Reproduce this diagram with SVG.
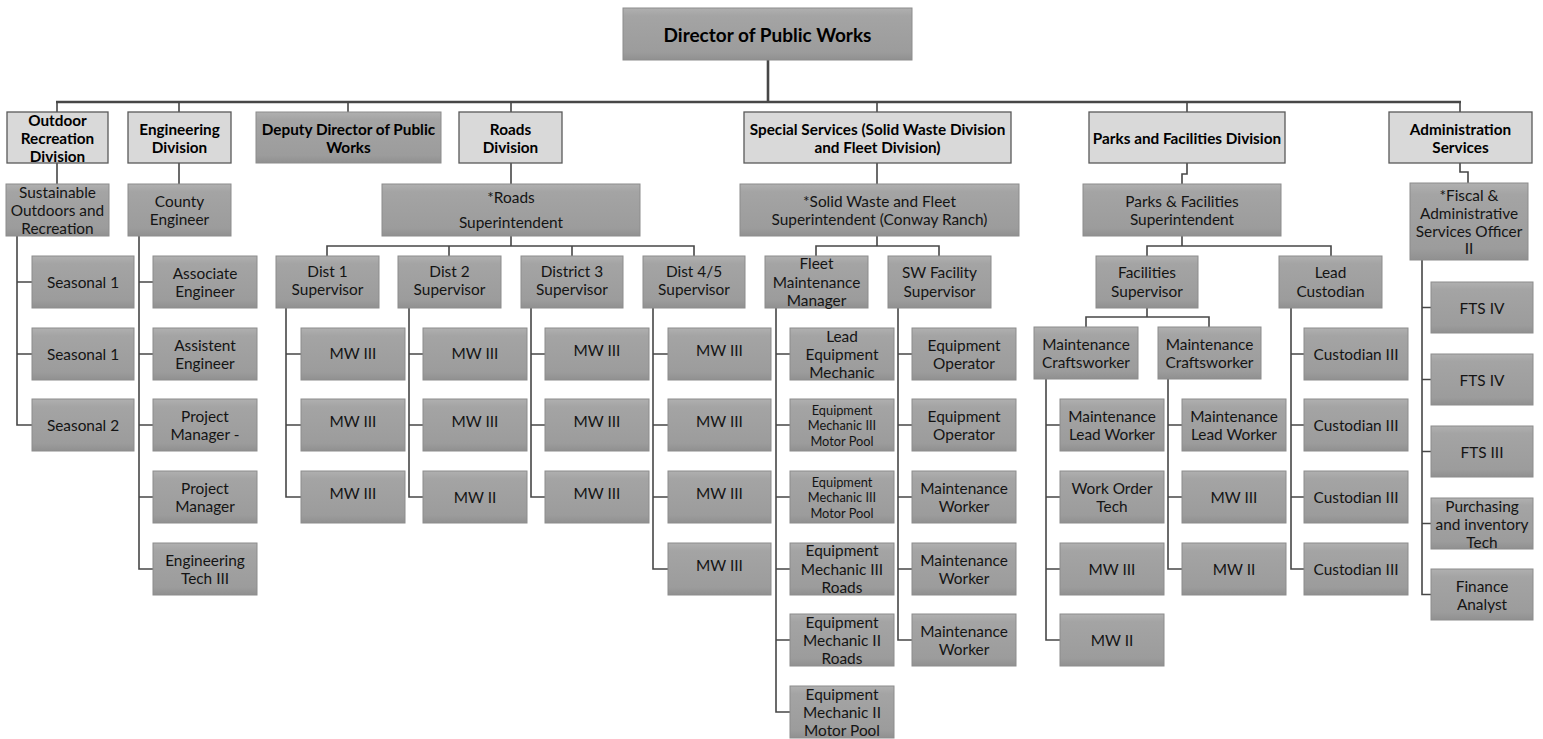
<svg xmlns="http://www.w3.org/2000/svg" width="1543" height="739" viewBox="0 0 1543 739">
<defs>
<linearGradient id="dg" x1="0" y1="0" x2="0" y2="1">
<stop offset="0" stop-color="#b0b0b0"/>
<stop offset="0.15" stop-color="#a4a4a4"/>
<stop offset="0.85" stop-color="#9c9c9c"/>
<stop offset="1" stop-color="#909090"/>
</linearGradient>
<style>
.dk{fill:url(#dg);stroke:#8c8c8c;stroke-width:1}
.lt{fill:#d9d9d9;stroke:#595959;stroke-width:1.3}
text{font-family:Lato,"Liberation Sans",sans-serif;font-size:15.4px;fill:#141414;text-anchor:middle;dominant-baseline:central}
.b{font-weight:bold;fill:#000;font-size:15.3px}
.s{font-size:12.8px}
.c{fill:none;stroke:#474747;stroke-width:1.6}
.m{fill:none;stroke:#474747;stroke-width:2.6}
</style>
</defs>
<rect width="1543" height="739" fill="#fff"/>

<g id="connectors">
<path class="m" d="M768,60V102M56,102H1461"/>
<path class="c" d="M57,102V112M179,102V112M348,102V112M511,102V112M877,102V112M1187,102V112M1460,102V112"/>
<path class="c" d="M57,163V184M179,163V184M511,163V184M877,163V184M1187,163V174H1182V184M1460,163V172H1468V183"/>
<path class="c" d="M511,236V246M327,256V246H694V256M449,246V256M572,246V256"/>
<path class="c" d="M877,236V246M816,256V246H939V256"/>
<path class="c" d="M1182,236V246M1147,256V246H1331V256"/>
<path class="c" d="M1147,308V317M1086,327V317H1209V327"/>
<path class="c" d="M17,236V425H32M17,282H32M17,354H32"/>
<path class="c" d="M139,236V569H153M139,282H153M139,354H153M139,425H153M139,497H153"/>
<path class="c" d="M286,308V497H301M286,354H301M286,425H301"/>
<path class="c" d="M409,308V497H423M409,354H423M409,425H423"/>
<path class="c" d="M531,308V497H545M531,354H545M531,425H545"/>
<path class="c" d="M653,308V569H668M653,354H668M653,425H668M653,497H668"/>
<path class="c" d="M776,308V712H790M776,354H790M776,425H790M776,497H790M776,569H790M776,640H790"/>
<path class="c" d="M898,308V640H912M898,354H912M898,425H912M898,497H912M898,569H912"/>
<path class="c" d="M1046,379V640H1060M1046,425H1060M1046,497H1060M1046,569H1060"/>
<path class="c" d="M1168,379V569H1182M1168,425H1182M1168,497H1182"/>
<path class="c" d="M1291,308V569H1304M1291,354H1304M1291,425H1304M1291,497H1304"/>
<path class="c" d="M1422,260V594.5H1431M1422,307.5H1431M1422,379.5H1431M1422,451.5H1431M1422,523.5H1431"/>
</g>

<g id="director"><rect class="dk" x="623" y="8" width="289" height="52"/><text class="b" x="767.5" y="34" style="font-size:19px">Director of Public Works</text></g>

<g id="outdoor"><rect class="lt" x="7" y="112" width="101" height="51"/><text class="b"><tspan x="57.5" y="119.5">Outdoor</tspan><tspan x="57.5" y="137.5">Recreation</tspan><tspan x="57.5" y="155.5">Division</tspan></text></g>
<g id="engdiv"><rect class="lt" x="128" y="112" width="103" height="51"/><text class="b"><tspan x="179.5" y="128.5">Engineering</tspan><tspan x="179.5" y="146.5">Division</tspan></text></g>
<g id="deputy"><rect class="dk" x="256" y="112" width="185" height="51"/><text class="b"><tspan x="348.5" y="128.5">Deputy Director of Public</tspan><tspan x="348.5" y="146.5">Works</tspan></text></g>
<g id="roadsdiv"><rect class="lt" x="459" y="112" width="103" height="51"/><text class="b"><tspan x="510.5" y="128.5">Roads</tspan><tspan x="510.5" y="146.5">Division</tspan></text></g>
<g id="special"><rect class="lt" x="744" y="112" width="267" height="51"/><text class="b"><tspan x="877.5" y="128.5">Special Services (Solid Waste Division</tspan><tspan x="877.5" y="146.5">and Fleet Division)</tspan></text></g>
<g id="parksdiv"><rect class="lt" x="1089" y="112" width="196" height="51"/><text class="b" x="1187" y="137.5">Parks and Facilities Division</text></g>
<g id="admin"><rect class="lt" x="1389" y="112" width="143" height="51"/><text class="b"><tspan x="1460.5" y="128.5">Administration</tspan><tspan x="1460.5" y="146.5">Services</tspan></text></g>

<g id="sustainable"><rect class="dk" x="6" y="184" width="103" height="52"/><text><tspan x="57.5" y="192">Sustainable</tspan><tspan x="57.5" y="210">Outdoors and</tspan><tspan x="57.5" y="228">Recreation</tspan></text></g>
<g id="county"><rect class="dk" x="128" y="184" width="103" height="52"/><text><tspan x="179.5" y="201">County</tspan><tspan x="179.5" y="219">Engineer</tspan></text></g>
<g id="roadssup"><rect class="dk" x="382" y="184" width="258" height="52"/><text><tspan x="511" y="197">*Roads</tspan><tspan x="511" y="222">Superintendent</tspan></text></g>
<g id="swsup"><rect class="dk" x="740" y="184" width="279" height="52"/><text><tspan x="879.5" y="201">*Solid Waste and Fleet</tspan><tspan x="879.5" y="219">Superintendent (Conway Ranch)</tspan></text></g>
<g id="parkssup"><rect class="dk" x="1083" y="184" width="198" height="52"/><text><tspan x="1182" y="201">Parks &amp; Facilities</tspan><tspan x="1182" y="219">Superintendent</tspan></text></g>
<g id="fiscal"><rect class="dk" x="1410" y="183" width="118" height="77"/><text><tspan x="1469" y="195">*Fiscal &amp;</tspan><tspan x="1469" y="213">Administrative</tspan><tspan x="1469" y="230.5">Services Officer</tspan><tspan x="1469" y="248">II</tspan></text></g>

<g id="dist1"><rect class="dk" x="276" y="256" width="103" height="52"/><text><tspan x="327.5" y="271">Dist 1</tspan><tspan x="327.5" y="289">Supervisor</tspan></text></g>
<g id="dist2"><rect class="dk" x="398" y="256" width="103" height="52"/><text><tspan x="449.5" y="271">Dist 2</tspan><tspan x="449.5" y="289">Supervisor</tspan></text></g>
<g id="dist3"><rect class="dk" x="521" y="256" width="102" height="52"/><text><tspan x="572" y="271">District 3</tspan><tspan x="572" y="289">Supervisor</tspan></text></g>
<g id="dist45"><rect class="dk" x="643" y="256" width="102" height="52"/><text><tspan x="694" y="271">Dist 4/5</tspan><tspan x="694" y="289">Supervisor</tspan></text></g>
<g id="fleetmgr"><rect class="dk" x="765" y="256" width="103" height="52"/><text><tspan x="816.5" y="263">Fleet</tspan><tspan x="816.5" y="281.5">Maintenance</tspan><tspan x="816.5" y="300">Manager</tspan></text></g>
<g id="swfac"><rect class="dk" x="888" y="256" width="103" height="52"/><text><tspan x="939.5" y="272">SW Facility</tspan><tspan x="939.5" y="291">Supervisor</tspan></text></g>
<g id="facsup"><rect class="dk" x="1096" y="256" width="102" height="52"/><text><tspan x="1147" y="272">Facilities</tspan><tspan x="1147" y="291">Supervisor</tspan></text></g>
<g id="leadcust"><rect class="dk" x="1279" y="256" width="103" height="52"/><text><tspan x="1330.5" y="272">Lead</tspan><tspan x="1330.5" y="291">Custodian</tspan></text></g>
<g id="mc1"><rect class="dk" x="1034" y="327" width="104" height="52"/><text><tspan x="1086" y="344">Maintenance</tspan><tspan x="1086" y="362">Craftsworker</tspan></text></g>
<g id="mc2"><rect class="dk" x="1158" y="327" width="103" height="52"/><text><tspan x="1209.5" y="344">Maintenance</tspan><tspan x="1209.5" y="362">Craftsworker</tspan></text></g>

<g id="seasonal1a"><rect class="dk" x="32" y="256" width="102" height="52"/><text x="83" y="282">Seasonal 1</text></g>
<g id="seasonal1b"><rect class="dk" x="32" y="328" width="102" height="52"/><text x="83" y="354">Seasonal 1</text></g>
<g id="seasonal2"><rect class="dk" x="32" y="399" width="102" height="52"/><text x="83" y="425">Seasonal 2</text></g>

<g id="assoceng"><rect class="dk" x="153" y="256" width="104" height="52"/><text><tspan x="205" y="273">Associate</tspan><tspan x="205" y="291">Engineer</tspan></text></g>
<g id="assisteng"><rect class="dk" x="153" y="328" width="104" height="52"/><text><tspan x="205" y="345">Assistent</tspan><tspan x="205" y="363">Engineer</tspan></text></g>
<g id="pm1"><rect class="dk" x="153" y="399" width="104" height="52"/><text><tspan x="205" y="416">Project</tspan><tspan x="205" y="434">Manager -</tspan></text></g>
<g id="pm2"><rect class="dk" x="153" y="471" width="104" height="52"/><text><tspan x="205" y="488">Project</tspan><tspan x="205" y="506">Manager</tspan></text></g>
<g id="engtech"><rect class="dk" x="153" y="543" width="104" height="52"/><text><tspan x="205" y="560">Engineering</tspan><tspan x="205" y="578">Tech III</tspan></text></g>

<g id="d1mw1"><rect class="dk" x="301" y="328" width="104" height="52"/><text x="353" y="353">MW III</text></g>
<g id="d1mw2"><rect class="dk" x="301" y="399" width="104" height="52"/><text x="353" y="421">MW III</text></g>
<g id="d1mw3"><rect class="dk" x="301" y="471" width="104" height="52"/><text x="353" y="493">MW III</text></g>
<g id="d2mw1"><rect class="dk" x="423" y="328" width="104" height="52"/><text x="475" y="353">MW III</text></g>
<g id="d2mw2"><rect class="dk" x="423" y="399" width="104" height="52"/><text x="475" y="421">MW III</text></g>
<g id="d2mw3"><rect class="dk" x="423" y="471" width="104" height="52"/><text x="475" y="497">MW II</text></g>
<g id="d3mw1"><rect class="dk" x="545" y="328" width="104" height="52"/><text x="597" y="350">MW III</text></g>
<g id="d3mw2"><rect class="dk" x="545" y="399" width="104" height="52"/><text x="597" y="421">MW III</text></g>
<g id="d3mw3"><rect class="dk" x="545" y="471" width="104" height="52"/><text x="597" y="493">MW III</text></g>
<g id="d4mw1"><rect class="dk" x="668" y="328" width="103" height="52"/><text x="719.5" y="350">MW III</text></g>
<g id="d4mw2"><rect class="dk" x="668" y="399" width="103" height="52"/><text x="719.5" y="421">MW III</text></g>
<g id="d4mw3"><rect class="dk" x="668" y="471" width="103" height="52"/><text x="719.5" y="493">MW III</text></g>
<g id="d4mw4"><rect class="dk" x="668" y="543" width="103" height="52"/><text x="719.5" y="565">MW III</text></g>

<g id="leadmech"><rect class="dk" x="790" y="328" width="104" height="52"/><text><tspan x="842" y="336">Lead</tspan><tspan x="842" y="354">Equipment</tspan><tspan x="842" y="372">Mechanic</tspan></text></g>
<g id="em3mp1"><rect class="dk" x="790" y="399" width="104" height="52"/><text class="s"><tspan x="842" y="409.5">Equipment</tspan><tspan x="842" y="425">Mechanic III</tspan><tspan x="842" y="440.5">Motor Pool</tspan></text></g>
<g id="em3mp2"><rect class="dk" x="790" y="471" width="104" height="52"/><text class="s"><tspan x="842" y="481.5">Equipment</tspan><tspan x="842" y="497">Mechanic III</tspan><tspan x="842" y="512.5">Motor Pool</tspan></text></g>
<g id="em3roads"><rect class="dk" x="790" y="543" width="104" height="52"/><text><tspan x="842" y="550">Equipment</tspan><tspan x="842" y="569">Mechanic III</tspan><tspan x="842" y="587">Roads</tspan></text></g>
<g id="em2roads"><rect class="dk" x="790" y="614" width="104" height="52"/><text><tspan x="842" y="622">Equipment</tspan><tspan x="842" y="640">Mechanic II</tspan><tspan x="842" y="658">Roads</tspan></text></g>
<g id="em2mp"><rect class="dk" x="790" y="686" width="104" height="52"/><text><tspan x="842" y="694">Equipment</tspan><tspan x="842" y="712">Mechanic II</tspan><tspan x="842" y="730">Motor Pool</tspan></text></g>

<g id="eqop1"><rect class="dk" x="912" y="328" width="104" height="52"/><text><tspan x="964" y="345">Equipment</tspan><tspan x="964" y="363">Operator</tspan></text></g>
<g id="eqop2"><rect class="dk" x="912" y="399" width="104" height="52"/><text><tspan x="964" y="416">Equipment</tspan><tspan x="964" y="434">Operator</tspan></text></g>
<g id="mworker1"><rect class="dk" x="912" y="471" width="104" height="52"/><text><tspan x="964" y="488">Maintenance</tspan><tspan x="964" y="506">Worker</tspan></text></g>
<g id="mworker2"><rect class="dk" x="912" y="543" width="104" height="52"/><text><tspan x="964" y="560">Maintenance</tspan><tspan x="964" y="578">Worker</tspan></text></g>
<g id="mworker3"><rect class="dk" x="912" y="614" width="104" height="52"/><text><tspan x="964" y="631">Maintenance</tspan><tspan x="964" y="649">Worker</tspan></text></g>

<g id="mc1lead"><rect class="dk" x="1060" y="399" width="104" height="52"/><text><tspan x="1112" y="416">Maintenance</tspan><tspan x="1112" y="434">Lead Worker</tspan></text></g>
<g id="workorder"><rect class="dk" x="1060" y="471" width="104" height="52"/><text><tspan x="1112" y="488">Work Order</tspan><tspan x="1112" y="506">Tech</tspan></text></g>
<g id="mc1mw3"><rect class="dk" x="1060" y="543" width="104" height="52"/><text x="1112" y="569">MW III</text></g>
<g id="mc1mw2"><rect class="dk" x="1060" y="614" width="104" height="52"/><text x="1112" y="640">MW II</text></g>
<g id="mc2lead"><rect class="dk" x="1182" y="399" width="104" height="52"/><text><tspan x="1234" y="416">Maintenance</tspan><tspan x="1234" y="434">Lead Worker</tspan></text></g>
<g id="mc2mw3"><rect class="dk" x="1182" y="471" width="104" height="52"/><text x="1234" y="497">MW III</text></g>
<g id="mc2mw2"><rect class="dk" x="1182" y="543" width="104" height="52"/><text x="1234" y="569">MW II</text></g>

<g id="cust1"><rect class="dk" x="1304" y="328" width="104" height="52"/><text x="1356" y="354">Custodian III</text></g>
<g id="cust2"><rect class="dk" x="1304" y="399" width="104" height="52"/><text x="1356" y="425">Custodian III</text></g>
<g id="cust3"><rect class="dk" x="1304" y="471" width="104" height="52"/><text x="1356" y="497">Custodian III</text></g>
<g id="cust4"><rect class="dk" x="1304" y="543" width="104" height="52"/><text x="1356" y="569">Custodian III</text></g>

<g id="fts4a"><rect class="dk" x="1431" y="282" width="102" height="51"/><text x="1482" y="307.5">FTS IV</text></g>
<g id="fts4b"><rect class="dk" x="1431" y="354" width="102" height="51"/><text x="1482" y="379.5">FTS IV</text></g>
<g id="fts3"><rect class="dk" x="1431" y="426" width="102" height="51"/><text x="1482" y="451.5">FTS III</text></g>
<g id="purchasing"><rect class="dk" x="1431" y="498" width="102" height="51"/><text><tspan x="1482" y="505.5">Purchasing</tspan><tspan x="1482" y="523.5">and inventory</tspan><tspan x="1482" y="541.5">Tech</tspan></text></g>
<g id="finance"><rect class="dk" x="1431" y="569" width="102" height="51"/><text><tspan x="1482" y="585.5">Finance</tspan><tspan x="1482" y="603.5">Analyst</tspan></text></g>
</svg>
